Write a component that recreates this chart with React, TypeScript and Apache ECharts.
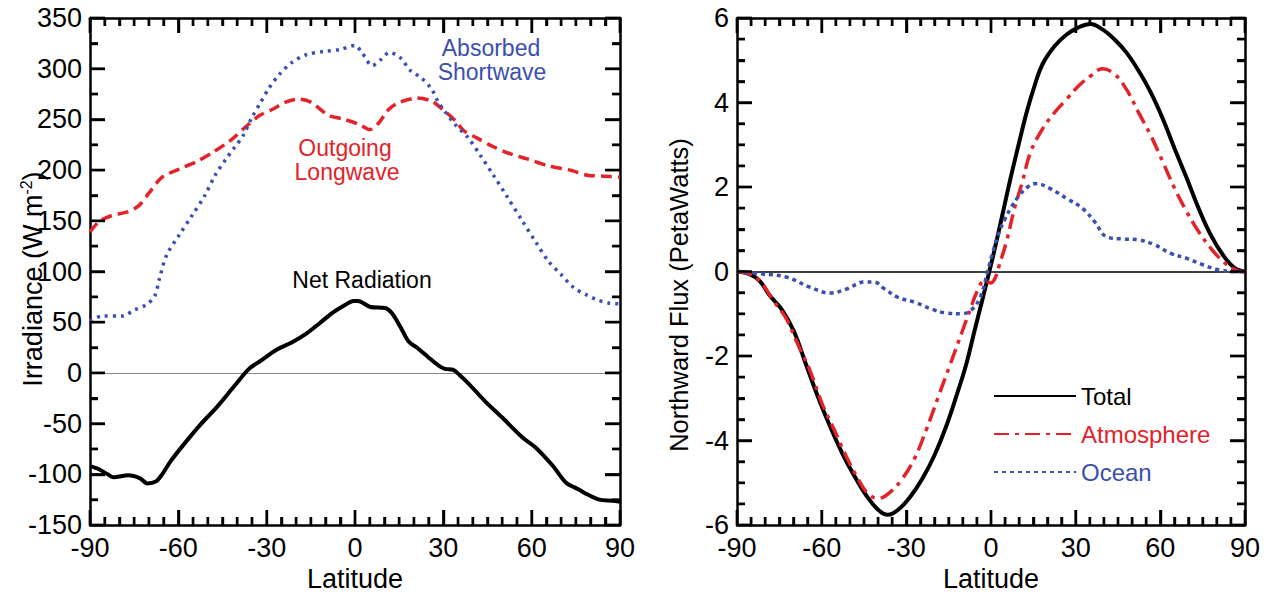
import React, { useEffect, useRef } from 'react';
import * as echarts from 'echarts';

const FONT = '"Liberation Sans", Arial, Helvetica, sans-serif';
const RED = '#e3222a';
const BLUE = '#3a4fae';

// ---------- Left panel: irradiance (W m-2) vs latitude ----------
const netLat = [-90, -87, -84, -82, -77, -73, -70.5, -67.6, -65.5, -62.6, -58, -52.5, -46.7, -41, -36, -32, -26.5, -21.5, -16.4, -12, -7.8, -3.4, -0.5, 1, 5.2, 10.3, 12.5, 15.3, 18.2, 21, 24.7, 28.3, 30.5, 33.4, 35.5, 38.4, 44.2, 50, 57, 61.5, 67.3, 71.6, 76, 79, 83, 87.4, 90];
const netVal = [-92, -95, -100, -103, -101, -104, -109, -107, -100, -87, -70, -51, -33, -13, 4, 12, 23, 30, 39, 49, 59, 67, 71, 71, 65, 64, 59, 46, 31, 25, 16, 7.5, 4, 3, -2, -10, -28, -44, -64, -74, -92, -108, -115, -120, -125, -126, -127];

const swLat = [-90, -86, -79, -75, -71, -68, -66.5, -64, -59.7, -55.4, -51, -47.5, -43.8, -41, -38, -35, -32, -29.4, -25.8, -21.5, -16.4, -10.7, -5, 0, 2.3, 5.9, 8.8, 11.7, 15.3, 18.9, 22.5, 26, 28.3, 30.5, 34, 38.4, 42.7, 47, 51.4, 57, 61.4, 65.7, 70, 74.3, 78.6, 82.3, 86, 90];
const swVal = [51, 56, 56, 62, 67, 76, 92, 116, 136, 155, 175, 195, 211, 222, 234, 252, 267, 280, 294, 306, 314, 317, 319, 323, 316, 303, 309, 316, 311, 298, 291, 280, 267, 258, 245, 232, 214, 195, 175, 149, 129, 110, 97, 84, 77, 72, 69, 68];

const lwLat = [-90, -87, -82.8, -77, -73.4, -69.8, -65.5, -59.7, -54, -48, -42.4, -36.6, -32.3, -28, -23.6, -19.3, -15, -9, -3.6, 1.5, 5, 7.9, 11.5, 15.3, 21, 26, 29.7, 34, 36.9, 41.2, 47, 52.8, 58.5, 65.8, 73, 78.8, 84.5, 90];
const lwVal = [139, 149, 155, 159, 165, 178, 193, 201, 208, 218, 229, 244, 254, 260, 267, 270, 267, 254, 250, 245, 240, 246, 260, 267, 271, 268, 260, 249, 239, 232, 223, 216, 211, 204, 200, 195, 194, 193];

// ---------- Right panel: northward flux (PW) vs latitude ----------
const totLat = [-90, -86, -82, -78.4, -74.1, -69.8, -65.6, -61.3, -57, -52.8, -48.5, -44.3, -40, -36.6, -32.9, -28.6, -24.4, -20.1, -15.9, -11.6, -8.75, -5.9, -3.1, -0.6, 1.2, 4, 6.9, 9.7, 12.6, 15.4, 18.2, 22.5, 26.8, 31, 35.3, 39.5, 43.8, 48, 52.3, 56.6, 60.9, 65.1, 69.4, 73.6, 77.9, 82.2, 86.4, 90];
const totVal = [0, -0.05, -0.22, -0.57, -0.9, -1.42, -2.19, -2.97, -3.67, -4.29, -4.83, -5.29, -5.64, -5.76, -5.64, -5.33, -4.91, -4.36, -3.67, -2.81, -2.19, -1.42, -0.68, 0, 0.5, 1.33, 2.2, 2.98, 3.76, 4.39, 4.9, 5.33, 5.61, 5.78, 5.86, 5.73, 5.49, 5.18, 4.75, 4.24, 3.61, 2.9, 2.2, 1.49, 0.86, 0.39, 0.08, 0];

const atmLat = [-90, -86, -82, -77, -72.7, -68.4, -64.1, -59.9, -55.6, -51.4, -47.1, -43.6, -40, -35.7, -31.5, -27.2, -22.9, -18.7, -14.4, -10.2, -7.3, -4.5, -2.4, 0, 1.5, 2.6, 5.5, 8.3, 11.1, 14, 18.2, 22.5, 26.8, 31, 35.3, 39.5, 43.8, 48, 52.3, 56.6, 60.9, 65.1, 69.4, 73.6, 77.9, 82.2, 86.4, 90];
const atmVal = [0, -0.05, -0.22, -0.7, -1.1, -1.73, -2.35, -3.12, -3.74, -4.36, -4.91, -5.26, -5.37, -5.22, -4.91, -4.44, -3.74, -2.97, -2.19, -1.42, -0.88, -0.41, -0.22, -0.27, -0.15, 0.08, 0.71, 1.49, 2.12, 2.82, 3.37, 3.76, 4.08, 4.39, 4.63, 4.8, 4.67, 4.31, 3.76, 3.22, 2.59, 1.96, 1.41, 0.94, 0.55, 0.24, 0.04, 0];

const ocnLat = [-90, -81, -72.6, -64.2, -57, -51, -45, -41.4, -37.8, -33, -27, -21, -16.2, -10.2, -6.6, -3.6, -1.2, 0.6, 3, 5, 7, 10, 13, 16, 21, 26.8, 32.5, 36.7, 41, 46.6, 52.3, 58, 63.7, 69.4, 75, 80.7, 86.4, 90];
const ocnVal = [0, -0.06, -0.13, -0.37, -0.51, -0.41, -0.25, -0.25, -0.41, -0.61, -0.73, -0.89, -0.98, -1.0, -0.89, -0.57, 0, 0.45, 0.95, 1.25, 1.5, 1.8, 2.0, 2.08, 1.96, 1.73, 1.49, 1.18, 0.82, 0.77, 0.75, 0.63, 0.43, 0.31, 0.16, 0.04, 0, 0];

// ---------- axis scales and tick marks ----------
const latTicks = { min: -90, max: 90, interval: 30 };
const irrTicks = { min: -150, max: 350, interval: 50 };
const fluxTicks = { min: -6, max: 6, interval: 2 };

const latTickVals = [-90, -85, -80, -75, -70, -65, -60, -55, -50, -45, -40, -35, -30, -25, -20, -15, -10, -5, 0, 5, 10, 15, 20, 25, 30, 35, 40, 45, 50, 55, 60, 65, 70, 75, 80, 85, 90];
const irrTickVals = [-150, -125, -100, -75, -50, -25, 0, 25, 50, 75, 100, 125, 150, 175, 200, 225, 250, 275, 300, 325, 350];
const fluxTickVals = [-6, -5.5, -5, -4.5, -4, -3.5, -3, -2.5, -2, -1.5, -1, -0.5, 0, 0.5, 1, 1.5, 2, 2.5, 3, 3.5, 4, 4.5, 5, 5.5, 6];

const pairs = (xs: number[], ys: number[]) => xs.map((x, i) => [x, ys[i]]);

const MAJOR_LEN = 15;
const MINOR_LEN = 8;
const TICK_W = 2.4;

const isMajor = (v: number, step: number) => Math.abs(v / step - Math.round(v / step)) < 1e-6;

function xAx(grid: number, position: string, showLabel: boolean) {
  return {
    type: 'value', gridIndex: grid, position, ...latTicks,
    axisLine: { show: true, onZero: false, lineStyle: { color: '#000', width: 2.5 } },
    axisTick: { show: true, inside: true, length: MAJOR_LEN, lineStyle: { color: '#000', width: TICK_W } },
    minorTick: { show: true, splitNumber: 6, length: MINOR_LEN, lineStyle: { color: '#000', width: TICK_W } },
    splitLine: { show: false },
    axisLabel: { show: showLabel, fontSize: 27, color: '#000', fontFamily: FONT, margin: 9 },
    name: showLabel ? 'Latitude' : '',
    nameLocation: 'middle', nameGap: 40,
    nameTextStyle: { fontSize: 27, color: '#000', fontFamily: FONT },
  };
}

function yAx(grid: number, position: string, showLabel: boolean, ticks: any, minorSplit: number) {
  return {
    type: 'value', gridIndex: grid, position, ...ticks,
    axisLine: { show: true, onZero: false, lineStyle: { color: '#000', width: 2.5 } },
    axisTick: { show: true, inside: true, length: MAJOR_LEN, lineStyle: { color: '#000', width: TICK_W } },
    minorTick: { show: true, splitNumber: minorSplit, length: MINOR_LEN, lineStyle: { color: '#000', width: TICK_W } },
    splitLine: { show: false },
    axisLabel: { show: showLabel, fontSize: 27, color: '#000', fontFamily: FONT, margin: 8 },
  };
}

const textGraphics = [
  {
    type: 'text', id: 't-irr', x: 33, y: 279, rotation: Math.PI / 2,
    style: {
      text: 'Irradiance (W m{sup|-2})', fontSize: 27, fontFamily: FONT, fill: '#000',
      align: 'center', verticalAlign: 'middle', lineHeight: 30,
      rich: { sup: { fontSize: 16, fontFamily: FONT, fill: '#000', verticalAlign: 'top', lineHeight: 16 } },
    },
  },
  {
    type: 'text', id: 't-flux', x: 679, y: 295, rotation: Math.PI / 2,
    style: { text: 'Northward Flux (PetaWatts)', fontSize: 25.5, fontFamily: FONT, fill: '#000', align: 'center', verticalAlign: 'middle' },
  },
  { type: 'text', id: 't-abs', x: 491, y: 48, style: { text: 'Absorbed', fontSize: 23, fontFamily: FONT, fill: BLUE, align: 'center', verticalAlign: 'middle' } },
  { type: 'text', id: 't-sw', x: 492, y: 72, style: { text: 'Shortwave', fontSize: 23, fontFamily: FONT, fill: BLUE, align: 'center', verticalAlign: 'middle' } },
  { type: 'text', id: 't-out', x: 345, y: 148, style: { text: 'Outgoing', fontSize: 23, fontFamily: FONT, fill: RED, align: 'center', verticalAlign: 'middle' } },
  { type: 'text', id: 't-lw', x: 347, y: 172, style: { text: 'Longwave', fontSize: 23, fontFamily: FONT, fill: RED, align: 'center', verticalAlign: 'middle' } },
  { type: 'text', id: 't-net', x: 362, y: 280, style: { text: 'Net Radiation', fontSize: 23, fontFamily: FONT, fill: '#000', align: 'center', verticalAlign: 'middle' } },
];

// Tick marks placed through the chart's own scales (convertToPixel)
function tickGraphics(chart: any, gridIndex: number, yVals: number[], yTicks: any) {
  const out: any[] = [];
  const px = (x: number, y: number) => chart.convertToPixel({ gridIndex }, [x, y]);
  latTickVals.forEach((v, i) => {
    const len = isMajor(v, latTicks.interval) ? MAJOR_LEN : MINOR_LEN;
    const b = px(v, yTicks.min);
    const t = px(v, yTicks.max);
    out.push({ type: 'rect', id: `xb${gridIndex}-${i}`, z: 50, silent: true, shape: { x: b[0] - TICK_W / 2, y: b[1] - len, width: TICK_W, height: len }, style: { fill: '#000' } });
    out.push({ type: 'rect', id: `xt${gridIndex}-${i}`, z: 50, silent: true, shape: { x: t[0] - TICK_W / 2, y: t[1], width: TICK_W, height: len }, style: { fill: '#000' } });
  });
  yVals.forEach((v, i) => {
    const len = isMajor(v, yTicks.interval) ? MAJOR_LEN : MINOR_LEN;
    const l = px(latTicks.min, v);
    const r = px(latTicks.max, v);
    out.push({ type: 'rect', id: `yl${gridIndex}-${i}`, z: 50, silent: true, shape: { x: l[0], y: l[1] - TICK_W / 2, width: len, height: TICK_W }, style: { fill: '#000' } });
    out.push({ type: 'rect', id: `yr${gridIndex}-${i}`, z: 50, silent: true, shape: { x: r[0] - len, y: r[1] - TICK_W / 2, width: len, height: TICK_W }, style: { fill: '#000' } });
  });
  return out;
}

export default function App() {
  const ref = useRef<HTMLDivElement>(null);
  useEffect(() => {
    if (!ref.current) return;
    const chart = echarts.init(ref.current, undefined, { renderer: 'svg' });
    chart.setOption({
      animation: false,
      backgroundColor: '#fff',
      grid: [
        { left: 90, right: 650, top: 18, bottom: 77 },
        { left: 737, right: 25, top: 18, bottom: 77 },
      ],
      xAxis: [xAx(0, 'bottom', true), xAx(0, 'top', false), xAx(1, 'bottom', true), xAx(1, 'top', false)],
      yAxis: [
        yAx(0, 'left', true, irrTicks, 2), yAx(0, 'right', false, irrTicks, 2),
        yAx(1, 'left', true, fluxTicks, 4), yAx(1, 'right', false, fluxTicks, 4),
      ],
      legend: {
        orient: 'vertical', left: 988, top: 379,
        itemWidth: 82, itemHeight: 14, itemGap: 14,
        itemStyle: { opacity: 0 },
        textStyle: { fontSize: 24, fontFamily: FONT, lineHeight: 24 },
        data: [
          { name: 'Total', textStyle: { color: '#000' } },
          { name: 'Atmosphere', textStyle: { color: RED } },
          { name: 'Ocean', textStyle: { color: BLUE } },
        ],
      },
      graphic: textGraphics,
      series: [
        {
          name: 'Outgoing Longwave', type: 'line', xAxisIndex: 0, yAxisIndex: 0, data: pairs(lwLat, lwVal),
          symbol: 'none', smooth: 0.3, lineStyle: { color: RED, width: 3.5, type: [11, 6] },
        },
        {
          name: 'Absorbed Shortwave', type: 'line', xAxisIndex: 0, yAxisIndex: 0, data: pairs(swLat, swVal),
          symbol: 'none', smooth: 0.3, lineStyle: { color: BLUE, width: 3.5, type: [3, 5] },
        },
        {
          name: 'Net Radiation', type: 'line', xAxisIndex: 0, yAxisIndex: 0, data: pairs(netLat, netVal),
          symbol: 'none', smooth: 0.3, lineStyle: { color: '#000', width: 4 },
          markLine: {
            silent: true, symbol: ['none', 'none'], z: 1, label: { show: false },
            lineStyle: { color: '#888', width: 1, type: 'solid' }, data: [{ yAxis: 0 }],
          },
        },
        {
          name: 'Total', type: 'line', xAxisIndex: 2, yAxisIndex: 2, data: pairs(totLat, totVal),
          symbol: 'none', smooth: 0.4, lineStyle: { color: '#000', width: 4 }, itemStyle: { color: '#000' },
          markLine: {
            silent: true, symbol: ['none', 'none'], z: 1, label: { show: false },
            lineStyle: { color: '#000', width: 1.5, type: 'solid' }, data: [{ yAxis: 0 }],
          },
        },
        {
          name: 'Atmosphere', type: 'line', xAxisIndex: 2, yAxisIndex: 2, data: pairs(atmLat, atmVal),
          symbol: 'none', smooth: 0.4, lineStyle: { color: RED, width: 3.5, type: [15, 6, 4, 6] }, itemStyle: { color: RED },
        },
        {
          name: 'Ocean', type: 'line', xAxisIndex: 2, yAxisIndex: 2, data: pairs(ocnLat, ocnVal),
          symbol: 'none', smooth: 0.4, lineStyle: { color: BLUE, width: 3.5, type: [4, 4] }, itemStyle: { color: BLUE },
        },
      ],
    });
    try {
      const ticks = [
        ...tickGraphics(chart, 0, irrTickVals, irrTicks),
        ...tickGraphics(chart, 1, fluxTickVals, fluxTicks),
      ];
      chart.setOption({ graphic: [...textGraphics, ...ticks] });
    } catch (e) {
      // keep the chart even if tick placement fails
    }
    return () => chart.dispose();
  }, []);
  return <div ref={ref} style={{ position: 'fixed', left: 0, top: 0, width: 1270, height: 602, background: '#fff' }} />;
}
